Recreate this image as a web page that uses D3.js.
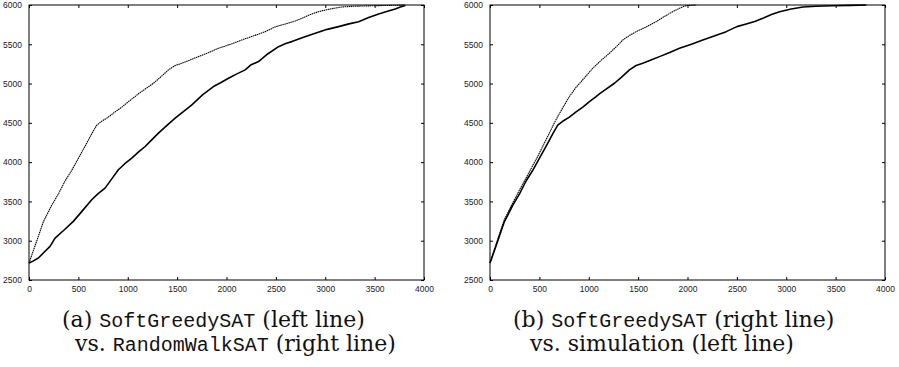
<!DOCTYPE html>
<html>
<head>
  <meta charset="utf-8">
  <title>SoftGreedySAT curves</title>
  <script src="https://cdn.jsdelivr.net/npm/d3@7"></script>
  <style>
    body { margin: 0; background: #fff; }
    .tick text { font: 8.5px "Liberation Sans", Arial, sans-serif; fill: #222; }
    .tick line { stroke: #000; stroke-width: 1; }
    .cap { font-family: "DejaVu Serif", serif; font-size: 22px; fill: #111; }
    .cap .tt { font-family: "Liberation Mono", "DejaVu Sans Mono", monospace; font-size: 20px; }
  </style>
</head>
<body>
<svg id="chart" width="899" height="367"></svg>
<script>
  // data: [moves, satisfied clauses]
  var xTicks = [0, 500, 1000, 1500, 2000, 2500, 3000, 3500, 4000];
  var yTicks = [2500, 3000, 3500, 4000, 4500, 5000, 5500, 6000];

  var softGreedySAT = [[0,2716],[60,2930],[145,3240],[230,3450],[300,3600],[365,3760],[430,3890],
    [483,4010],[584,4240],[635,4360],[686,4470],[736,4520],[800,4570],[872,4640],[940,4700],
    [1007,4770],[1074,4835],[1108,4870],[1176,4930],[1260,5004],[1330,5080],[1412,5174],
    [1480,5230],[1547,5258],[1630,5300],[1716,5343],[1820,5395],[1919,5449],[2040,5500],
    [2155,5555],[2270,5605],[2392,5661],[2500,5725],[2595,5758],[2680,5790],[2764,5831],
    [2850,5880],[2932,5915],[3050,5950],[3169,5975],[3300,5985],[3473,5990],[3650,5995],[3811,6000]];

  var randomWalkSAT = [[0,2716],[40,2740],[95,2780],[150,2850],[213,2928],[264,3034],[350,3130],
    [449,3246],[540,3380],[635,3521],[700,3600],[770,3669],[840,3790],[905,3903],[970,3980],
    [1041,4051],[1110,4130],[1176,4199],[1240,4280],[1311,4369],[1400,4470],[1480,4559],
    [1560,4640],[1649,4729],[1760,4860],[1868,4962],[1940,5010],[2020,5068],[2100,5120],
    [2189,5174],[2250,5240],[2324,5280],[2420,5380],[2527,5470],[2600,5510],[2662,5534],
    [2780,5590],[2899,5640],[3020,5690],[3135,5725],[3240,5760],[3338,5788],[3440,5840],
    [3541,5886],[3630,5920],[3709,5949],[3760,5975],[3811,5995]];

  var simulation = [[0,2716],[60,2950],[145,3267],[230,3479],[300,3650],[365,3797],[425,3940],
    [483,4072],[530,4190],[584,4326],[640,4470],[686,4581],[745,4710],[804,4835],[870,4950],
    [939,5047],[1041,5195],[1120,5290],[1209,5386],[1280,5470],[1345,5555],[1410,5610],
    [1480,5661],[1580,5720],[1682,5788],[1760,5850],[1851,5915],[1920,5960],[1986,5992],[2088,6000]];

  var panels = [
    { left: 29, series: [softGreedySAT, randomWalkSAT], thin: 0,
      cap: [[62, 327, "(a) ", "SoftGreedySAT", " (left line)"], [75, 351, "vs. ", "RandomWalkSAT", " (right line)"]] },
    { left: 490, series: [simulation, softGreedySAT], thin: 0,
      cap: [[513, 327, "(b) ", "SoftGreedySAT", " (right line)"], [530, 351, "vs. simulation (left line)", "", ""]] }
  ];

  var plotW = 395, plotTop = 5, plotH = 275;
  var svg = d3.select("#chart");

  panels.forEach(function(p) {
    var x = d3.scaleLinear().domain([0, 4000]).range([0, plotW]);
    var y = d3.scaleLinear().domain([2500, 6000]).range([plotH, 0]);
    var g = svg.append("g").attr("transform", "translate(" + p.left + "," + plotTop + ")");

    g.append("g").attr("transform", "translate(0," + plotH + ")")
      .call(d3.axisBottom(x).tickValues(xTicks).tickSize(-3).tickSizeOuter(0).tickPadding(6).tickFormat(d3.format("d")));
    g.append("g")
      .call(d3.axisLeft(y).tickValues(yTicks).tickSize(-3).tickSizeOuter(0).tickPadding(7).tickFormat(d3.format("d")));
    g.append("g")
      .call(d3.axisTop(x).tickValues(xTicks).tickSize(-3).tickSizeOuter(0).tickFormat(""));
    g.append("g").attr("transform", "translate(" + plotW + ",0)")
      .call(d3.axisRight(y).tickValues(yTicks).tickSize(-3).tickSizeOuter(0).tickFormat(""));
    g.selectAll(".domain").remove();

    g.append("rect").attr("width", plotW).attr("height", plotH)
      .attr("fill", "none").attr("stroke", "#000").attr("stroke-width", 1);

    var line = d3.line().x(function(d) { return x(d[0]); }).y(function(d) { return y(d[1]); });

    p.series.forEach(function(s, i) {
      var thin = i === p.thin;
      g.append("path").datum(s)
        .attr("d", line)
        .attr("fill", "none")
        .attr("stroke", "#000")
        .attr("stroke-width", thin ? 1.1 : 1.6)
        .attr("stroke-dasharray", thin ? "1.5,0.6" : null)
        .attr("stroke-linejoin", "round");
    });

    p.cap.forEach(function(c) {
      var t = svg.append("text").attr("class", "cap").attr("x", c[0]).attr("y", c[1]);
      t.append("tspan").text(c[2]);
      if (c[3]) t.append("tspan").attr("class", "tt").text(c[3]);
      if (c[4]) t.append("tspan").text(c[4]);
    });
  });
</script>
</body>
</html>
